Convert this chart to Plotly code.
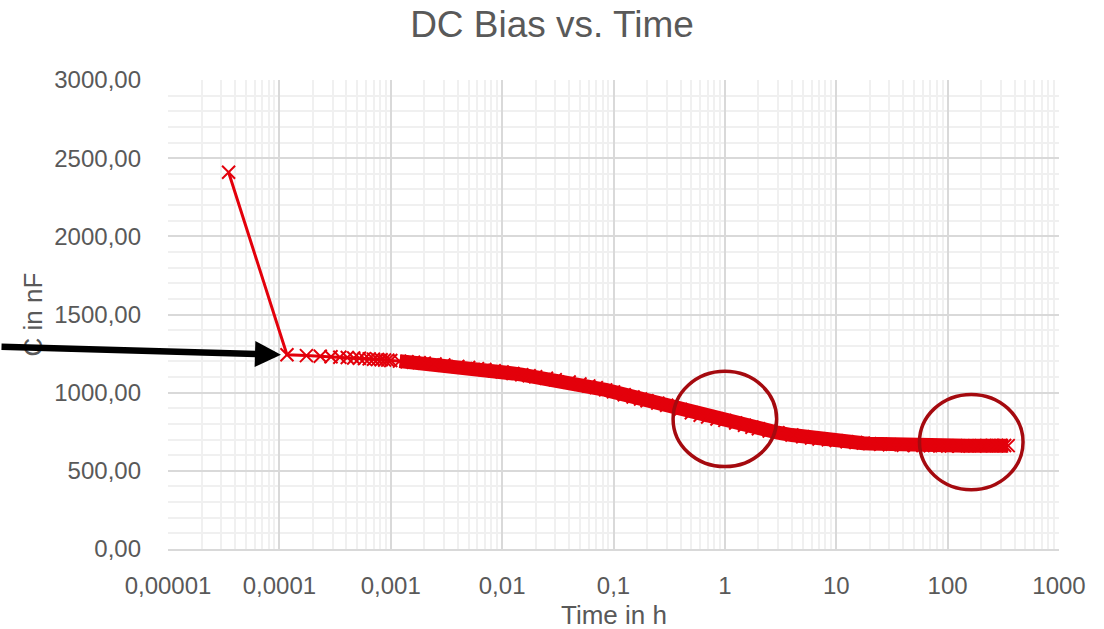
import math
import plotly.graph_objects as go

# Measured capacitance under DC bias over time
time_h = [3.5e-5, 1.17e-4, 1.75e-4, 2.33e-4, 2.91e-4, 3.49e-4, 4.07e-4, 4.65e-4,
          5.23e-4, 5.81e-4, 6.4e-4, 7e-4, 7.6e-4, 8.2e-4, 8.8e-4, 9.4e-4, 1.0e-3,
          1.2e-3, 1.4e-3, 1.6e-3, 1.8e-3, 2.0e-3, 2.5e-3, 3e-3, 4e-3, 5e-3, 6e-3,
          7e-3, 8.5e-3, 0.01, 0.0125, 0.015, 0.0175, 0.02, 0.025, 0.03, 0.04, 0.05,
          0.06, 0.07, 0.085, 0.1, 0.125, 0.15, 0.175, 0.2, 0.25, 0.3, 0.4, 0.5,
          0.6, 0.7, 0.85, 1, 1.25, 1.5, 1.75, 2, 2.5, 3, 4, 5, 6, 7, 8.5, 10,
          12.5, 15, 17.5, 20, 25, 30, 40, 50, 60, 70, 85, 100, 125, 150, 175,
          200, 225, 250, 275, 300, 325, 350]
cap_nf = [2410, 1242, 1237, 1233, 1230, 1227, 1225, 1222,
          1220, 1218, 1216, 1214, 1212, 1211, 1209, 1208, 1206,
          1202, 1198, 1195, 1192, 1189, 1183, 1177, 1168, 1161, 1154,
          1148, 1140, 1133, 1123, 1115, 1108, 1102, 1092, 1083, 1068, 1055,
          1043, 1032, 1018, 1005, 987, 972, 959, 948, 933, 920, 893, 872,
          856, 844, 832, 823, 806, 792, 779, 769, 755, 744, 729, 718, 710, 704, 698, 693,
          686, 681, 677, 674, 670, 667, 664, 662, 661, 660, 659, 659, 659, 660, 660,
          661, 661, 662, 662, 662, 662, 661]

x_tickvals = [1e-5, 1e-4, 1e-3, 1e-2, 0.1, 1, 10, 100, 1000]
x_ticktext = ["0,00001", "0,0001", "0,001", "0,01", "0,1", "1", "10", "100", "1000"]
y_tickvals = [0, 500, 1000, 1500, 2000, 2500, 3000]
y_ticktext = ["0,00", "500,00", "1000,00", "1500,00", "2000,00", "2500,00", "3000,00"]

# Highlighted regions (centre time, centre capacitance)
highlights = [(1.0, 832), (163.0, 684)]

RED = "#E3000B"
DARK_RED = "#A50A0F"
TEXT = "#595959"
FONT = "Liberation Sans, Arial, sans-serif"
X_LOG_RANGE = (-5, 3)
Y_RANGE = (0, 3000)
W, H = 1104, 629
M_L, M_R, M_T, M_B = 168, 45, 80, 80
PLOT_W, PLOT_H = W - M_L - M_R, H - M_T - M_B

fig = go.Figure()

# Dense stretch of the measurement: overlapping markers form a solid band
band_start = next(i for i, t in enumerate(time_h) if t >= 1.2e-3)
fig.add_trace(go.Scatter(
    x=time_h[band_start:], y=cap_nf[band_start:], mode="lines",
    line=dict(color=RED, width=14), hoverinfo="skip", showlegend=False,
))
fig.add_trace(go.Scatter(
    x=time_h, y=cap_nf, mode="lines+markers",
    line=dict(color=RED, width=3),
    marker=dict(symbol="x-thin", size=13, line=dict(color=RED, width=2)),
    showlegend=False,
))


def to_paper_x(t):
    return (math.log10(t) - X_LOG_RANGE[0]) / (X_LOG_RANGE[1] - X_LOG_RANGE[0])


def to_paper_y(c):
    return (c - Y_RANGE[0]) / (Y_RANGE[1] - Y_RANGE[0])


for t, c in highlights:
    cx, cy = to_paper_x(t), to_paper_y(c)
    dx = 0.465 / (X_LOG_RANGE[1] - X_LOG_RANGE[0])
    dy = 305 / (Y_RANGE[1] - Y_RANGE[0])
    fig.add_shape(type="circle", xref="paper", yref="paper",
                  x0=cx - dx, x1=cx + dx, y0=cy - dy, y1=cy + dy,
                  line=dict(color=DARK_RED, width=3.5), layer="above")

# Axis titles placed at fixed offsets from the plot area
fig.add_annotation(text="Time in h", xref="paper", yref="paper",
                   x=0.5, y=-(615 - (H - M_B)) / PLOT_H,
                   xanchor="center", yanchor="middle", showarrow=False,
                   font=dict(size=26, color=TEXT, family=FONT))
fig.add_annotation(text="C in nF", xref="paper", yref="paper",
                   x=-(M_L - 32) / PLOT_W, y=0.5, textangle=-90,
                   xanchor="center", yanchor="middle", showarrow=False,
                   font=dict(size=26, color=TEXT, family=FONT))

# Arrow pointing at the first settled reading
fig.add_annotation(
    x=math.log10(time_h[1]), y=cap_nf[1], xref="x", yref="y",
    text="", showarrow=True, ax=-300, ay=-8,
    arrowhead=2, arrowsize=0.8, arrowwidth=6.5, arrowcolor="black", standoff=6,
)

fig.update_layout(
    width=W, height=H,
    margin=dict(l=M_L, r=M_R, t=M_T, b=M_B, autoexpand=False),
    paper_bgcolor="white", plot_bgcolor="white",
    font=dict(family=FONT, color=TEXT),
    title=dict(text="DC Bias vs. Time", x=0.5, xanchor="center",
               y=1 - 24 / H, yanchor="middle", yref="container",
               font=dict(size=37, color=TEXT, family=FONT)),
)

fig.update_xaxes(
    type="log", range=list(X_LOG_RANGE), automargin=False,
    tickmode="array", tickvals=x_tickvals, ticktext=x_ticktext,
    tickfont=dict(size=24, color=TEXT), ticklabelstandoff=14,
    showgrid=True, gridcolor="#D9D9D9", gridwidth=1.5,
    minor=dict(dtick="D1", showgrid=True, gridcolor="#F0F0F0", gridwidth=1.5),
    showline=True, linecolor="#D9D9D9", linewidth=1.5, mirror=False,
    zeroline=False, ticks="",
)
fig.update_yaxes(
    range=list(Y_RANGE), automargin=False,
    tickmode="array", tickvals=y_tickvals, ticktext=y_ticktext,
    tickfont=dict(size=24, color=TEXT), ticklabelstandoff=26,
    showgrid=True, gridcolor="#D9D9D9", gridwidth=1.5,
    minor=dict(dtick=100, showgrid=True, gridcolor="#F0F0F0", gridwidth=1.5),
    showline=False, zeroline=False, ticks="",
)

fig.write_html("out.html")
